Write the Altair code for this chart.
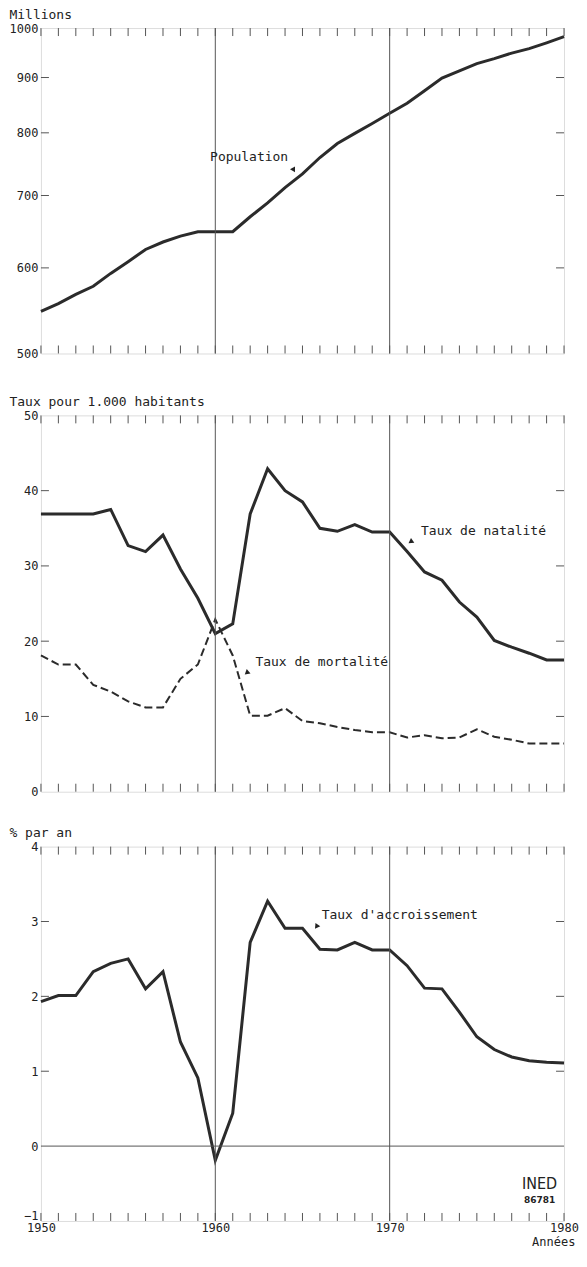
import altair as alt
import pandas as pd

years = list(range(1950, 1981))
population = [547, 556, 567, 577, 593, 608, 624, 634, 642, 648, 648, 648, 669, 689, 712,
              733, 759, 782, 799, 816, 834, 852, 875, 899, 913, 927, 937, 948, 957, 969, 982]
birth = [36.9, 36.9, 36.9, 36.9, 37.5, 32.7, 31.9, 34.1, 29.6, 25.7, 21.0, 22.3, 36.9, 42.9, 40.0,
         38.5, 35.0, 34.6, 35.5, 34.5, 34.5, 31.9, 29.2, 28.1, 25.2, 23.2, 20.1, 19.2, 18.4, 17.5, 17.5]
death = [18.1, 16.9, 16.9, 14.2, 13.3, 12.0, 11.2, 11.2, 15.0, 16.9, 22.9, 18.1, 10.1, 10.1, 11.1,
         9.4, 9.1, 8.6, 8.2, 7.9, 7.9, 7.2, 7.5, 7.1, 7.2, 8.3, 7.3, 6.9, 6.4, 6.4, 6.4]
growth = [1.93, 2.01, 2.01, 2.33, 2.44, 2.50, 2.10, 2.33, 1.39, 0.91, -0.19, 0.44, 2.72, 3.27, 2.91,
          2.91, 2.63, 2.62, 2.72, 2.62, 2.62, 2.41, 2.11, 2.10, 1.79, 1.46, 1.29, 1.19, 1.14, 1.12, 1.11]

x_labels = [1950, 1960, 1970, 1980]
decade_lines = [1960, 1970]

pop_ticks = [600, 700, 800, 900]
pop_labels = [500, 600, 700, 800, 900, 1000]
rate_ticks = [10, 20, 30, 40]
rate_labels = [0, 10, 20, 30, 40, 50]
gr_ticks = [1, 2, 3]
gr_labels = [-1, 0, 1, 2, 3, 4]

# annotations: text, year, value
pop_ann = {"text": ["Population"], "year": [1959.7], "v": [760]}
pop_arrow = {"year": [1964.5], "v": [739], "angle": [150]}
rate_ann = {"text": ["Taux de natalité", "Taux de mortalité"], "year": [1971.8, 1962.3], "v": [34.7, 17.2]}
rate_arrow = {"year": [1971.2, 1961.8], "v": [33.2, 15.8], "angle": [235, 230]}
gr_ann = {"text": ["Taux d'accroissement"], "year": [1966.1], "v": [3.09]}
gr_arrow = {"year": [1965.8], "v": [2.93], "angle": [215]}
logo_name = {"text": ["INED"], "year": [1978.6], "v": [-0.5]}
logo_num = {"text": ["86781"], "year": [1978.6], "v": [-0.72]}
x_title = {"text": ["Années"], "year": [1980.65], "v": [-1.28]}

W = 524
H1, H2, H3 = 326, 377, 375
FONT = "DejaVu Sans Mono"
INK = "#2b2b2b"
TL = 8  # tick length

xscale = alt.Scale(domain=[1950, 1980], nice=False, zero=False)

bottom_x_axis = alt.Axis(values=x_labels, format="d", tickSize=0, domain=False, grid=False,
                         labelPadding=2, labelFontSize=12, labelFont=FONT, labelColor="#222",
                         labelFlush=False, labelOverlap=False, title=None)


def y_axis(title, labels, low_label=None):
    kw = {}
    if low_label is not None:
        kw["labelOffset"] = {"condition": {"test": f"datum.value == {low_label}", "value": -5},
                             "value": 0}
    return alt.Axis(values=labels, tickSize=0, domain=False, grid=False, labelPadding=3,
                    labelFontSize=12, labelFont=FONT, labelColor="#222", labelOverlap=False,
                    format="d", title=title, titleAngle=0, titleAlign="left",
                    titleBaseline="bottom", titleX=-32, titleY=-7, titleFont=FONT,
                    titleFontSize=13, titleFontWeight="normal", titleColor="#222", **kw)


def build_panel(h, yscale, yaxis, xaxis, ticks, series, ann, arrow, extra=()):
    X = alt.X("year:Q", scale=xscale, axis=xaxis)
    Y = alt.Y("v:Q", scale=yscale, axis=yaxis)
    yr = pd.DataFrame({"year": years})
    tk = pd.DataFrame({"v": ticks})
    dl = pd.DataFrame({"year": decade_lines})
    layers = []
    for df, sw, dash in series:
        kw = {"strokeDash": dash} if dash else {}
        layers.append(alt.Chart(df).mark_line(color=INK, strokeWidth=sw, **kw).encode(x=X, y=Y))
    layers += [
        alt.Chart(yr).mark_rule(color="#555", strokeWidth=1).encode(x=X, y=alt.value(0), y2=alt.value(TL)),
        alt.Chart(yr).mark_rule(color="#555", strokeWidth=1).encode(x=X, y=alt.value(h), y2=alt.value(h - TL)),
        alt.Chart(tk).mark_rule(color="#555", strokeWidth=1).encode(y=Y, x=alt.value(0), x2=alt.value(TL)),
        alt.Chart(tk).mark_rule(color="#555", strokeWidth=1).encode(y=Y, x=alt.value(W - TL), x2=alt.value(W)),
        alt.Chart(dl).mark_rule(color="#555", strokeWidth=1).encode(x=X),
        alt.Chart(pd.DataFrame(ann)).mark_text(
            align="left", baseline="middle", font=FONT, fontSize=13, color="#222").encode(
            x=X, y=Y, text="text:N"),
        alt.Chart(pd.DataFrame(arrow)).mark_point(
            shape="triangle-up", filled=True, size=34, color="#222", opacity=1).encode(
            x=X, y=Y, angle=alt.Angle("angle:Q", scale=None)),
    ]
    for fn in extra:
        layers.append(fn(X, Y))
    return alt.layer(*layers).properties(width=W, height=h)


# ---- top panel: population (log)
pop_scale = alt.Scale(type="log", domain=[500, 1000], nice=False)
df_pop = pd.DataFrame({"year": years, "v": population})
top = build_panel(H1, pop_scale, y_axis("Millions", pop_labels), None, pop_ticks,
                  [(df_pop, 3, None)], pop_ann, pop_arrow)

# ---- middle panel: birth / death rates
rate_scale = alt.Scale(domain=[0, 50], nice=False, zero=False)
df_b = pd.DataFrame({"year": years, "v": birth})
df_d = pd.DataFrame({"year": years, "v": death})
mid = build_panel(H2, rate_scale, y_axis("Taux pour 1.000 habitants", rate_labels), None,
                  rate_ticks, [(df_b, 3, None), (df_d, 2, [8, 4])], rate_ann, rate_arrow)

# ---- bottom panel: growth rate
gr_scale = alt.Scale(domain=[-1, 4], nice=False, zero=False)
df_g = pd.DataFrame({"year": years, "v": growth})


def zero_line(X, Y):
    return alt.Chart(pd.DataFrame({"v": [0]})).mark_rule(color="#555", strokeWidth=1).encode(y=Y)


def logo1(X, Y):
    return alt.Chart(pd.DataFrame(logo_name)).mark_text(
        align="center", baseline="middle", color="#222",
        font="Liberation Sans Narrow, DejaVu Sans Condensed", fontSize=16).encode(
        x=X, y=Y, text="text:N")


def logo2(X, Y):
    return alt.Chart(pd.DataFrame(logo_num)).mark_text(
        align="center", baseline="middle", color="#222", font="DejaVu Sans",
        fontSize=9, fontWeight="bold").encode(x=X, y=Y, text="text:N")


def years_title(X, Y):
    return alt.Chart(pd.DataFrame(x_title)).mark_text(
        align="right", baseline="middle", color="#222", font=FONT, fontSize=12).encode(
        x=X, y=Y, text="text:N")


bot = build_panel(H3, gr_scale, y_axis("% par an", gr_labels, low_label=-1), bottom_x_axis,
                  gr_ticks, [(df_g, 3, None)], gr_ann, gr_arrow,
                  extra=(zero_line, logo1, logo2, years_title))

chart = alt.vconcat(top, alt.vconcat(mid, bot, spacing=27), spacing=34).properties(
    padding={"left": 0, "top": -2, "right": 0, "bottom": 0}
).configure_view(stroke="#777", strokeWidth=1).configure(font=FONT)

chart.save("out.html", embed_options={"renderer": "svg", "actions": False})
